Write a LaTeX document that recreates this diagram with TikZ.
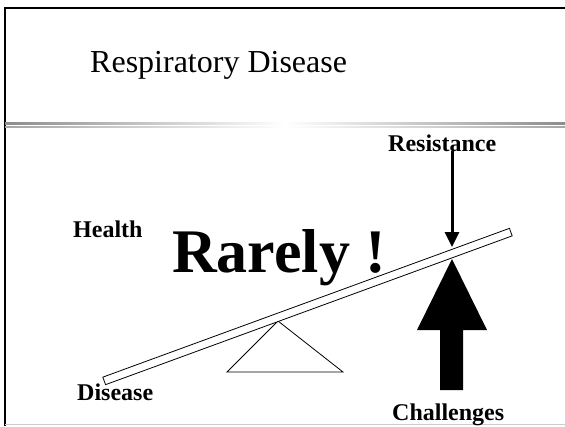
\documentclass[tikz,border=0pt]{standalone}
\usepackage{fontspec}
\setmainfont{Liberation Serif}
\usetikzlibrary{arrows.meta, positioning}
\tikzset{%
	label text/.style={
		anchor=base west,
		inner sep=0pt,
		font=\fontsize{24}{28}\selectfont\bfseries
	},
	beam/.style={
		draw,
		fill=white,
		line width=0.8pt,
		minimum width=433pt,
		minimum height=8pt,
		inner sep=0pt,
		rotate=20.1
	},
	thin arrow/.style={
		line width=3pt,
		-{Triangle[width=14pt,length=15pt]}
	},
}
\begin{document}
\begin{tikzpicture}[x=1pt,y=-1pt]
			\useasboundingbox (0,0) rectangle (565,426);
			% frame and title rule
			\draw[line width=2pt] (565,8) -- (5,8) -- (5,426);
			\draw[gray!40, line width=0.8pt] (5,424) -- (565,424);
			\shade[left color=gray!90, right color=gray!90, middle color=white] (5,122) rectangle (565,124);
			\shade[left color=gray!70, right color=gray!70, middle color=white] (5,126) rectangle (565,127.5);
			
			\node[anchor=base west, inner sep=0pt, font=\fontsize{32}{36}\selectfont] (title) at (90,72) {Respiratory Disease};
			\node[label text] (res) at (388,151) {Resistance};
			\node[label text] (health) at (73,237) {Health};
			\node[anchor=base west, inner sep=0pt, font=\fontsize{62}{70}\selectfont\bfseries] (rarely) at (172,272) {Rarely !};
			\node[label text] (dis) at (77,400) {Disease};
			\node[label text] (chal) at (392,420) {Challenges};
			
			% seesaw
			\draw[line width=0.8pt] (278,321) -- (343,372) -- (227,372) -- cycle;
			\node[beam] (beam) at (307.5,306.5) {};
			
			\coordinate (rtip) at (452,247);
			\coordinate (ctip) at (452,259);
			\draw[thin arrow] (res.south -| rtip) -- (rtip);
			\fill (ctip) -- (487,330) -- (463,330) -- (463,390) -- (440,390) -- (440,330) -- (417,330) -- cycle;
			
		\end{tikzpicture}
\end{document}
